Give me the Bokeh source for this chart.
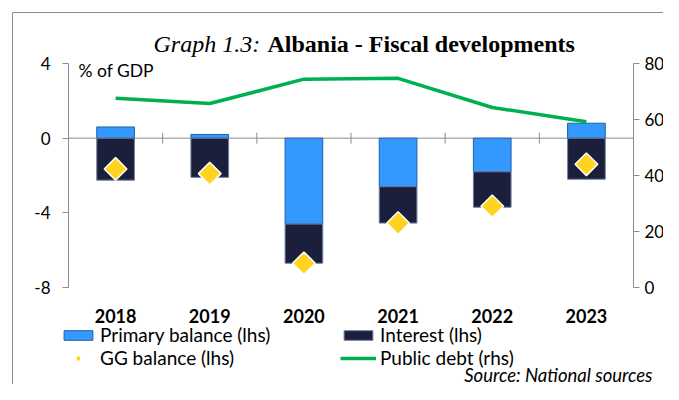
import numpy as np
from bokeh.plotting import figure
from bokeh.models import (Range1d, LinearAxis, FixedTicker, Label, Legend,
                          LegendItem, ColumnDataSource)
from bokeh.embed import file_html
from bokeh.resources import INLINE

# ---- data ----
years = ["2018", "2019", "2020", "2021", "2022", "2023"]
primary_balance = [0.6, 0.2, -4.6, -2.6, -1.8, 0.8]
interest = [2.25, 2.1, 2.1, 1.95, 1.9, 2.2]
gg_balance = [-1.65, -1.9, -6.7, -4.55, -3.65, -1.4]
public_debt = [67.6, 65.7, 74.4, 74.7, 64.3, 59.2]
lhs_ticks = [-8, -4, 0, 4]
lhs_tick_labels = ["-8", "-4", "0", "4"]
rhs_ticks = [0, 20, 40, 60, 80]

FONT = "Lato"
GREY = "#8c8c8c"
W, H = 663, 384
# plot-area placement on the canvas (pixels)
PL, PR, PT, PB = 68, 633, 63, 287

n = len(years)
lhs_lo, lhs_hi = min(lhs_ticks), max(lhs_ticks)
rhs_lo, rhs_hi = min(rhs_ticks), max(rhs_ticks)
xs = n / (PR - PL)
ys = (lhs_hi - lhs_lo) / (PB - PT)
rs = (rhs_hi - rhs_lo) / (PB - PT)
x_range = Range1d(-PL * xs, n + (W - PR) * xs)
y_range = Range1d(lhs_lo - (H - PB) * ys, lhs_hi + PT * ys)
r_range = Range1d(rhs_lo - (H - PB) * rs, rhs_hi + PT * rs)

def px_x(px):
    return x_range.start + px * xs

def px_y(py):
    return y_range.end - py * ys

x = np.arange(n) + 0.5
pb = np.array(primary_balance)
it = np.array(interest)
int_top = np.minimum(pb, 0)
int_bottom = int_top - it

src = ColumnDataSource(dict(x=x, pb=pb, zero=np.zeros_like(pb), int_top=int_top,
                            int_bottom=int_bottom, gg=gg_balance, debt=public_debt))

p = figure(width=W, height=H, output_backend="svg", toolbar_location=None,
           x_range=x_range, y_range=y_range,
           min_border_left=0, min_border_right=0, min_border_top=0, min_border_bottom=0)
p.extra_y_ranges = {"debt": r_range}
p.xgrid.visible = False
p.ygrid.visible = False
p.outline_line_color = None
p.background_fill_color = "white"
p.border_fill_color = "white"

# outer frame line (top and left edges)
p.segment(x0=[px_x(12), px_x(12)], y0=[px_y(12), px_y(12)],
          x1=[px_x(W + 20), px_x(12)], y1=[px_y(12), px_y(H + 20)],
          line_color=GREY, line_width=1)

# left axis
ax = p.yaxis[0]
ax.ticker = FixedTicker(ticks=lhs_ticks)
ax.major_label_overrides = {t: s for t, s in zip(lhs_ticks, lhs_tick_labels)}
ax.fixed_location = 0
ax.bounds = (lhs_lo, lhs_hi)
ax.axis_line_color = GREY
ax.major_tick_line_color = GREY
ax.major_tick_out = 6
ax.major_tick_in = 0
ax.minor_tick_line_color = None
ax.major_label_text_font = FONT
ax.major_label_text_font_size = "17px"
ax.major_label_text_color = "black"
ax.major_label_standoff = 12

# right axis
rax = LinearAxis(y_range_name="debt", ticker=FixedTicker(ticks=rhs_ticks))
rax.fixed_location = n
rax.bounds = (rhs_lo, rhs_hi)
rax.axis_line_color = GREY
rax.major_tick_line_color = GREY
rax.major_tick_out = 6
rax.major_tick_in = 0
rax.minor_tick_line_color = None
rax.major_label_text_font = FONT
rax.major_label_text_font_size = "17px"
rax.major_label_text_color = "black"
rax.major_label_standoff = 5
p.add_layout(rax, "right")

# category axis
xa = p.xaxis[0]
xa.ticker = FixedTicker(ticks=list(x))
xa.major_label_overrides = {float(v): y for v, y in zip(x, years)}
xa.fixed_location = lhs_lo
xa.axis_line_color = None
xa.major_tick_line_color = None
xa.minor_tick_line_color = None
xa.major_label_text_font = FONT
xa.major_label_text_font_size = "18px"
xa.major_label_text_font_style = "bold"
xa.major_label_text_color = "black"
xa.major_label_standoff = 15

# zero line with category separators
p.segment(x0=[0], x1=[n], y0=[0], y1=[0], line_color=GREY, line_width=1)
bounds = np.arange(1, n)
p.scatter(x=bounds, y=np.zeros_like(bounds), marker="dash", angle=np.pi / 2, size=11,
          line_color=GREY, line_width=1)

# bars
r_pb = p.vbar(x="x", bottom="zero", top="pb", width=0.4, source=src,
              fill_color="#3399FF", line_color="#1F5FA8", line_width=1)
r_int = p.vbar(x="x", bottom="int_bottom", top="int_top", width=0.4, source=src,
               fill_color="#1B1F3B", line_color="#6F7F9F", line_width=1)
r_gg = p.scatter(x="x", y="gg", source=src, marker="square", angle=np.pi / 4, size=16,
                 fill_color="#FFD320", line_color="white", line_width=1.5)
r_debt = p.line(x="x", y="debt", source=src, y_range_name="debt",
                line_color="#00B050", line_width=3.5)

# legend proxy (smaller diamond)
r_gg_leg = p.scatter(x=[-10], y=[-10], marker="diamond", size=11,
                     fill_color="#FFD320", line_color="#FFD320")

def mk_legend(items, vx, vy):
    return Legend(items=items, location=(vx, vy), orientation="vertical",
                  glyph_width=36, glyph_height=12, label_standoff=4, spacing=-1,
                  label_height=19, padding=0, margin=0, border_line_color=None,
                  background_fill_alpha=0, label_text_font=FONT,
                  label_text_font_size="19px", label_text_color="black")

p.add_layout(mk_legend([LegendItem(label="Primary balance (lhs)", renderers=[r_pb]),
                        LegendItem(label="GG balance (lhs)", renderers=[r_gg_leg])],
                       60, 15), "center")
p.add_layout(mk_legend([LegendItem(label="Interest (lhs)", renderers=[r_int]),
                        LegendItem(label="Public debt (rhs)", renderers=[r_debt])],
                       340, 15), "center")

# texts (screen units measured from the canvas bottom-left)
p.add_layout(Label(x=78, y=H - 70, x_units="screen", y_units="screen", text="% of GDP",
                   text_font=FONT, text_font_size="17.5px", text_baseline="middle",
                   text_color="black"))
p.add_layout(Label(x=153, y=H - 43, x_units="screen", y_units="screen", text="Graph 1.3:",
                   text_font="Liberation Serif", text_font_size="24px", text_font_style="italic",
                   text_align="left", text_baseline="alphabetic", text_color="black"))
p.add_layout(Label(x=267, y=H - 43, x_units="screen", y_units="screen",
                   text="Albania - Fiscal developments",
                   text_font="Liberation Serif", text_font_size="24px", text_font_style="bold",
                   text_align="left", text_baseline="alphabetic", text_color="black"))
p.add_layout(Label(x=652, y=10, x_units="screen", y_units="screen",
                   text="Source: National sources",
                   text_font=FONT, text_font_size="18.5px", text_font_style="italic",
                   text_align="right", text_baseline="middle", text_color="black"))

open("out.html", "w").write(file_html(p, INLINE))
